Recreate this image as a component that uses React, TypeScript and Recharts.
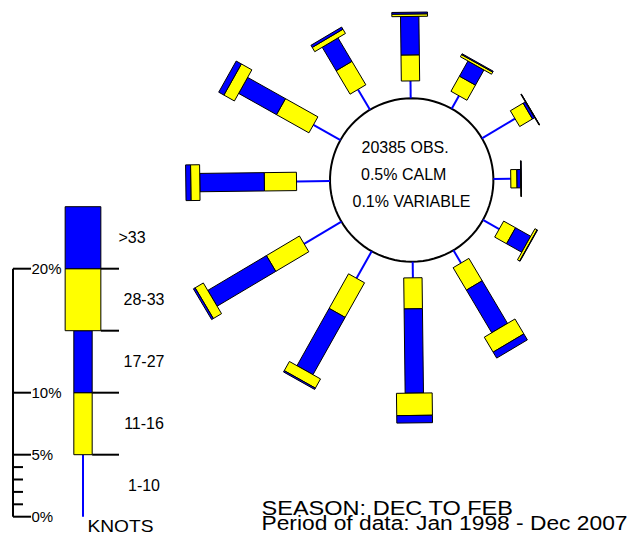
import React from 'react'
import { ScatterChart, Scatter, XAxis, YAxis } from 'recharts'

// wind direction (deg clockwise from north) and % of obs per speed class
const DIRECTIONS = [0, 30, 60, 90, 120, 150, 180, 210, 240, 270, 300, 330]
const PCT_1_10 = [1.4, 1.2, 3.1, 1.4, 1.5, 1.2, 1.3, 2.5, 3.5, 2.7, 2.5, 1.9]
const PCT_11_16 = [2.1, 1.4, 1.2, 0.5, 1.1, 2.1, 2.5, 3.2, 3.1, 2.6, 3.0, 2.2]
const PCT_17_27 = [3.1, 1.4, 0.2, 0.3, 1.4, 4.0, 6.8, 5.3, 5.5, 5.2, 3.5, 2.2]
const PCT_28_33 = [0.2, 0.2, 0.04, 0.03, 0.2, 1.4, 1.8, 0.85, 0.77, 0.73, 0.97, 0.4]
const PCT_OVER_33 = [0.14, 0.08, 0.02, 0.02, 0.04, 0.56, 0.6, 0.12, 0.16, 0.4, 0.48, 0.2]

const SPEED_CLASSES = ['1-10', '11-16', '17-27', '28-33', '>33']
const KEY_STEP = 5
const KEY_TICKS = [0, 1, 2, 3, 4, 5, 10, 20]
const KEY_LABELED = [0, 5, 10, 20]

const TOTAL_OBS = 20385
const CALM_PCT = 0.5
const VARIABLE_PCT = 0.1
const SEASON = 'DEC TO FEB'
const PERIOD = 'Jan 1998 - Dec 2007'

// layout
const W = 637
const H = 537
const PX = 12.4 // px per percent
const CX = 411.7
const CY = 180
const R0 = 81.7 / PX
const NARROW = 1.48
const WIDE = 2.88
const TILT = -0.7
const BLUE = '#0000ff'
const YELLOW = '#ffff00'
const FONT = '"Liberation Sans", Arial, sans-serif'

const KEY_W = 173
const KEY_AXIS_W = 13
const KEY_ZERO_Y = 516.7
const KEY_MAX = 26
const KEY_BAR_X = (83 - KEY_AXIS_W) / PX
const KEY_RULE_END = (119 - KEY_AXIS_W) / PX
const KEY_LABEL_X = (144 - KEY_AXIS_W) / PX

type Pt = { x: number; y: number; name?: string }

function bar(ox: number, oy: number, deg: number, r0: number, r1: number, w: number): Pt[] {
  const a = (deg * Math.PI) / 180
  const ux = Math.sin(a), uy = Math.cos(a)
  const px = (Math.cos(a) * w) / 2, py = (-Math.sin(a) * w) / 2
  const p = (r: number, s: number) => ({ x: ox + ux * r + s * px, y: oy + uy * r + s * py })
  return [p(r0, 1), p(r1, 1), p(r1, -1), p(r0, -1), p(r0, 1)]
}

function seg(ox: number, oy: number, deg: number, r0: number, r1: number): Pt[] {
  const a = (deg * Math.PI) / 180
  return [
    { x: ox + Math.sin(a) * r0, y: oy + Math.cos(a) * r0 },
    { x: ox + Math.sin(a) * r1, y: oy + Math.cos(a) * r1 },
  ]
}

const noDot = () => null

type Piece = { key: string; data: Pt[]; line: Record<string, unknown> }

const boxStyle = (fill: string) => ({ fill, stroke: '#000', strokeWidth: 1 })
const blueLine = { stroke: BLUE, strokeWidth: 2 }

function rosePieces(): Piece[] {
  const out: Piece[] = []
  DIRECTIONS.forEach((d, i) => {
    const deg = d + TILT
    let r = R0
    const r1 = r + PCT_1_10[i]
    out.push({ key: `l${i}`, data: seg(0, 0, deg, r, r1), line: blueLine })
    r = r1
    const stack = [
      { v: PCT_11_16[i], w: NARROW, c: YELLOW },
      { v: PCT_17_27[i], w: NARROW, c: BLUE },
      { v: PCT_28_33[i], w: WIDE, c: YELLOW },
      { v: PCT_OVER_33[i], w: WIDE, c: BLUE },
    ]
    stack.forEach((s, j) => {
      out.push({ key: `b${i}-${j}`, data: bar(0, 0, deg, r, r + s.v, s.w), line: boxStyle(s.c) })
      r += s.v
    })
  })
  return out
}

const circlePts: Pt[] = Array.from({ length: 91 }, (_, k) => {
  const a = (k * 4 * Math.PI) / 180
  return { x: Math.sin(a) * R0, y: Math.cos(a) * R0 }
})

function keyPieces(): Piece[] {
  const out: Piece[] = []
  out.push({ key: 'axis', data: [{ x: 0, y: 0 }, { x: 0, y: 20 }], line: { stroke: '#000', strokeWidth: 2 } })
  out.push({ key: 'k0', data: [{ x: KEY_BAR_X, y: 0 }, { x: KEY_BAR_X, y: KEY_STEP }], line: blueLine })
  const boxes = [
    { w: NARROW, c: YELLOW },
    { w: NARROW, c: BLUE },
    { w: WIDE, c: YELLOW },
    { w: WIDE, c: BLUE },
  ]
  boxes.forEach((b, j) => {
    const lo = KEY_STEP * (j + 1)
    out.push({ key: `kb${j}`, data: bar(KEY_BAR_X, 0, 0, lo, lo + KEY_STEP, b.w), line: boxStyle(b.c) })
    out.push({
      key: `kr${j}`,
      data: [{ x: KEY_BAR_X + b.w / 2, y: lo }, { x: KEY_RULE_END, y: lo }],
      line: { stroke: '#000', strokeWidth: 2 },
    })
  })
  return out
}

const keyLabels: Pt[] = SPEED_CLASSES.map((name, i) => ({
  x: KEY_LABEL_X,
  y: KEY_STEP * i + KEY_STEP / 2,
  name,
}))

const renderKeyLabel = (props: any) => (
  <text
    x={props.cx - (props.payload.name === '>33' ? 12 : 0)}
    y={props.cy}
    textAnchor="middle"
    dominantBaseline="central"
    fontSize={16}
    fontFamily={FONT}
    fill="#000"
  >
    {props.payload.name}
  </text>
)

const renderKeyTick = (props: any) => {
  const { x, y, payload } = props
  const major = KEY_LABELED.includes(payload.value)
  const len = major ? 18 : 10
  return (
    <g>
      <line x1={x} y1={y} x2={x + len} y2={y} stroke="#000" strokeWidth={2} />
      {major && (
        <text x={x + len + 0.5} y={y} dominantBaseline="central" fontSize={15} fontFamily={FONT} fill="#000">
          {payload.value}%
        </text>
      )}
    </g>
  )
}

export default function App() {
  const rose = rosePieces()
  const key = keyPieces()
  return (
    <div style={{ position: 'absolute', left: 0, top: 0, width: W, height: H, overflow: 'hidden', background: '#fff' }}>
      <div style={{ position: 'absolute', left: 0, top: 0 }}>
        <ScatterChart
          width={KEY_W}
          height={H}
          margin={{ top: KEY_ZERO_Y - KEY_MAX * PX, right: 0, bottom: H - KEY_ZERO_Y, left: 0 }}
        >
          <XAxis type="number" dataKey="x" domain={[0, (KEY_W - KEY_AXIS_W) / PX]} hide />
          <YAxis
            type="number"
            dataKey="y"
            domain={[0, KEY_MAX]}
            ticks={KEY_TICKS}
            interval={0}
            width={KEY_AXIS_W}
            tickSize={0}
            tickMargin={0}
            axisLine={false}
            tickLine={false}
            tick={renderKeyTick}
          />
          {key.map((p) => (
            <Scatter key={p.key} data={p.data} line={p.line} shape={noDot} isAnimationActive={false} />
          ))}
          <Scatter data={keyLabels} shape={renderKeyLabel} isAnimationActive={false} />
        </ScatterChart>
      </div>
      <div style={{ position: 'absolute', left: 0, top: 0 }}>
        <ScatterChart width={W} height={H} margin={{ top: 0, right: 0, bottom: 0, left: 0 }}>
          <XAxis type="number" dataKey="x" domain={[-CX / PX, (W - CX) / PX]} hide allowDataOverflow />
          <YAxis type="number" dataKey="y" domain={[-(H - CY) / PX, CY / PX]} hide allowDataOverflow />
          <Scatter data={circlePts} line={{ stroke: '#000', strokeWidth: 2, fill: '#fff' }} shape={noDot} isAnimationActive={false} />
          {rose.map((p) => (
            <Scatter key={p.key} data={p.data} line={p.line} shape={noDot} isAnimationActive={false} />
          ))}
        </ScatterChart>
      </div>
      <svg width={W} height={H} style={{ position: 'absolute', left: 0, top: 0, pointerEvents: 'none' }}>
        <g fontFamily={FONT} fill="#000">
          <text x={361.5} y={153.3} fontSize={16}>{`${TOTAL_OBS} OBS.`}</text>
          <text x={361} y={180} fontSize={16}>{`${CALM_PCT}% CALM`}</text>
          <text x={352.5} y={206.7} fontSize={16}>{`${VARIABLE_PCT}% VARIABLE`}</text>
          <text x={87.5} y={532} fontSize={17} textLength={66} lengthAdjust="spacingAndGlyphs">KNOTS</text>
          <text x={261.5} y={515} fontSize={20} textLength={251.5} lengthAdjust="spacingAndGlyphs">
            {`SEASON: ${SEASON}`}
          </text>
          <text x={261.5} y={529.5} fontSize={20} textLength={366} lengthAdjust="spacingAndGlyphs">
            {`Period of data: ${PERIOD}`}
          </text>
        </g>
      </svg>
    </div>
  )
}
